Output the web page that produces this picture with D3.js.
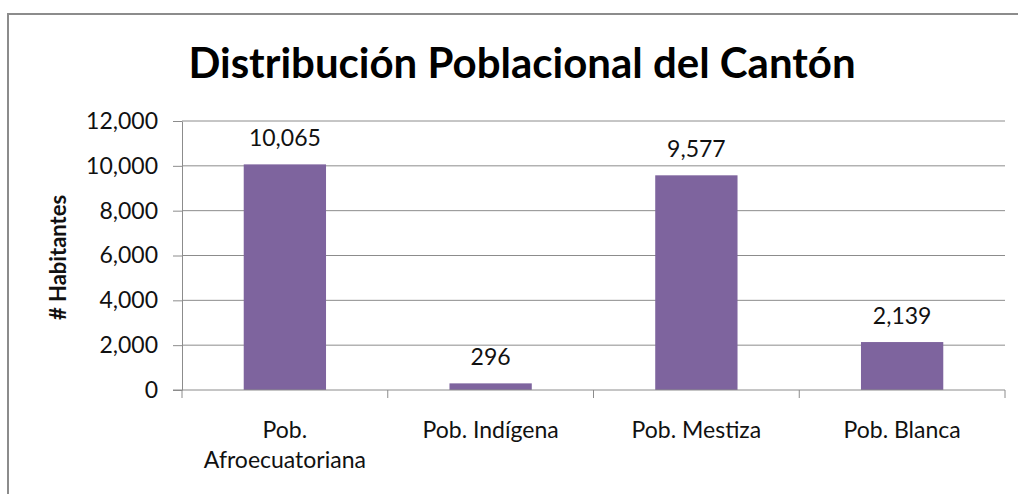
<!DOCTYPE html>
<html>
<head>
<meta charset="utf-8">
<script src="https://cdn.jsdelivr.net/npm/d3@7"></script>
<style>
  html, body { margin: 0; padding: 0; background: #fff; overflow: hidden; }
  svg { display: block; font-family: Lato, "Open Sans", sans-serif; }
</style>
</head>
<body>
<div id="chart"></div>
<script>
// Data
const categories = [["Pob.", "Afroecuatoriana"], ["Pob. Indígena"], ["Pob. Mestiza"], ["Pob. Blanca"]];
const values = [10065, 296, 9577, 2139];
const yTicks = [0, 2000, 4000, 6000, 8000, 10000, 12000];

const width = 1018, height = 494;
const margin = { top: 121, right: 13, bottom: 104, left: 182 };
const innerWidth = width - margin.left - margin.right;
const innerHeight = height - margin.top - margin.bottom;
const barColor = "#7e649e";
const gridColor = "#8c8c8c";
const labelSize = "23px";

const svg = d3.select("#chart").append("svg")
  .attr("width", width)
  .attr("height", height);

// Outer chart border (runs off the right and bottom edges)
svg.append("path")
  .attr("d", `M8,${height}V14H${width}`)
  .attr("fill", "none")
  .attr("stroke", "#8c8c8c")
  .attr("stroke-width", 2);

const g = svg.append("g")
  .attr("transform", `translate(${margin.left},${margin.top})`);

const keys = categories.map((c, i) => i);
const x = d3.scaleBand().domain(keys).range([0, innerWidth])
  .paddingInner(0.6).paddingOuter(0.3);
const xCat = d3.scaleBand().domain(keys).range([0, innerWidth]).padding(0);
const y = d3.scaleLinear().domain([0, 12000]).range([innerHeight, 0]);
const fmt = d3.format(",");

// Gridlines
g.append("g")
  .selectAll("line")
  .data(yTicks.filter(d => d > 0))
  .join("line")
  .attr("x1", 0).attr("x2", innerWidth)
  .attr("y1", d => y(d)).attr("y2", d => y(d))
  .attr("stroke", gridColor).attr("stroke-width", 1);

// Bars
g.selectAll(".bar")
  .data(values)
  .join("rect")
  .attr("class", "bar")
  .attr("x", (d, i) => x(i))
  .attr("y", d => y(d))
  .attr("width", x.bandwidth())
  .attr("height", d => innerHeight - y(d))
  .attr("fill", barColor);

// Y axis
const yAxis = g.append("g")
  .call(d3.axisLeft(y).tickValues(yTicks).tickFormat(fmt).tickSize(9).tickSizeOuter(0));
yAxis.select(".domain").attr("stroke", gridColor);
yAxis.selectAll(".tick line").attr("stroke", gridColor);
yAxis.selectAll("text").attr("fill", "#111").style("font-size", labelSize)
  .style("font-family", "Lato, sans-serif").attr("x", -24);

// X axis (ticks at category boundaries)
const xAxisG = g.append("g").attr("transform", `translate(0,${innerHeight})`);
xAxisG.append("line")
  .attr("x1", -9).attr("x2", innerWidth)
  .attr("y1", 0).attr("y2", 0)
  .attr("stroke", gridColor);
xAxisG.selectAll(".xtick")
  .data(keys.concat([keys.length]))
  .join("line")
  .attr("x1", d => d < keys.length ? xCat(d) : innerWidth)
  .attr("x2", d => d < keys.length ? xCat(d) : innerWidth)
  .attr("y1", 0).attr("y2", 8)
  .attr("stroke", gridColor);

// Category labels
const catText = xAxisG.selectAll(".cat")
  .data(categories)
  .join("text")
  .attr("class", "cat")
  .attr("text-anchor", "middle")
  .attr("fill", "#111")
  .style("font-size", labelSize)
  .attr("transform", (d, i) => `translate(${xCat(i) + xCat.bandwidth() / 2},48)`);
catText.selectAll("tspan")
  .data(d => d)
  .join("tspan")
  .attr("x", 0)
  .attr("dy", (d, j) => j === 0 ? 0 : 30)
  .text(d => d);

// Data labels
g.selectAll(".val")
  .data(values)
  .join("text")
  .attr("class", "val")
  .attr("text-anchor", "middle")
  .attr("fill", "#111")
  .style("font-size", labelSize)
  .attr("x", (d, i) => x(i) + x.bandwidth() / 2)
  .attr("y", d => y(d) - 18)
  .text(d => fmt(d));

// Y label
svg.append("text")
  .attr("text-anchor", "middle")
  .attr("transform", `translate(66,${margin.top + innerHeight / 2 + 2}) rotate(-90)`)
  .style("font-size", "22px")
  .style("font-weight", "bold")
  .attr("fill", "#111")
  .text("# Habitantes");

// Title
svg.append("text")
  .attr("text-anchor", "middle")
  .attr("x", 522)
  .attr("y", 78)
  .style("font-size", "42px")
  .style("font-weight", "bold")
  .attr("fill", "#000")
  .text("Distribución Poblacional del Cantón");
</script>
</body>
</html>
